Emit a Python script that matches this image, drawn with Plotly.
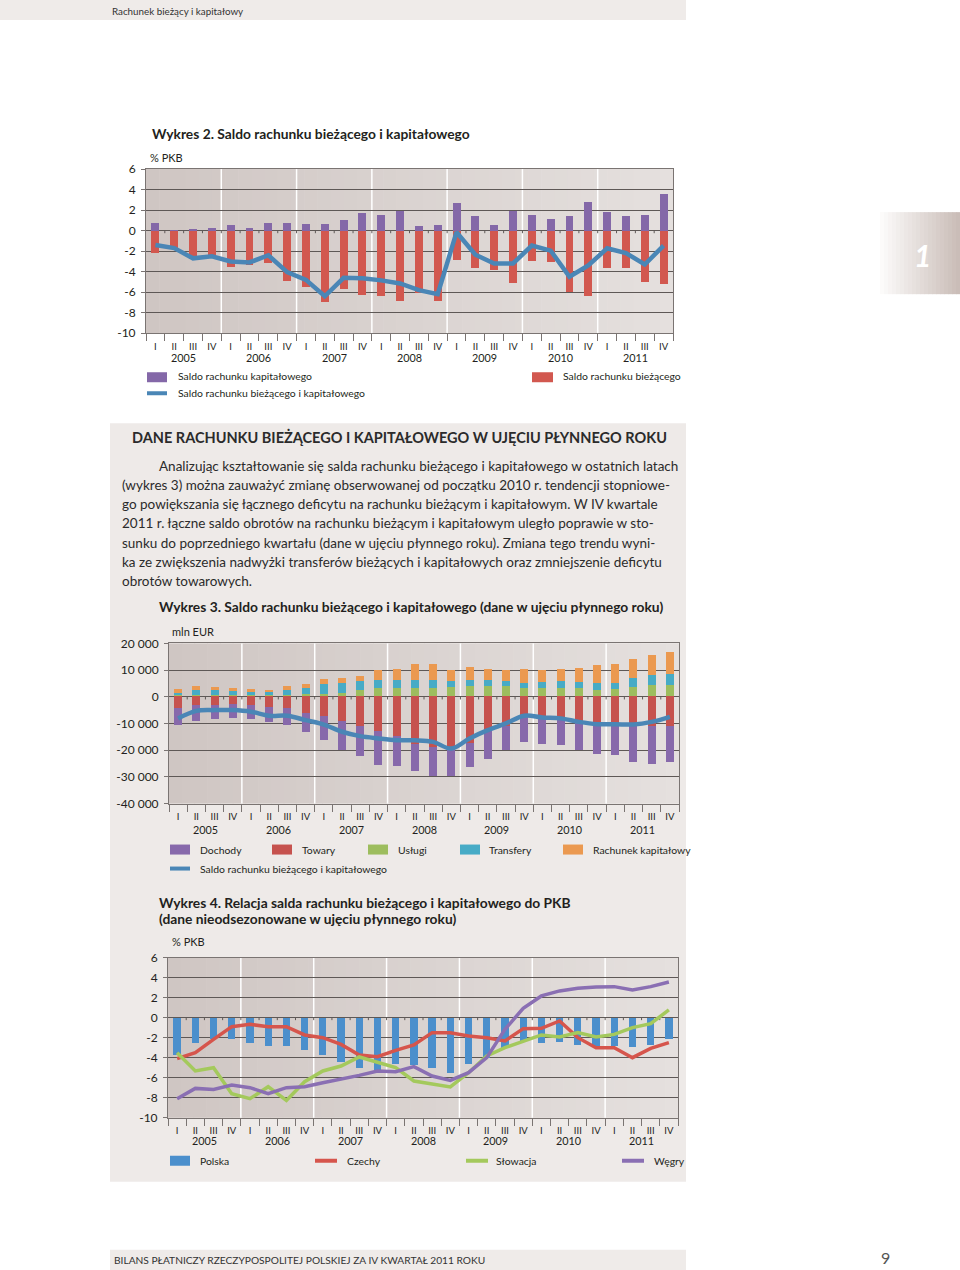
import plotly.graph_objects as go

W, H = 960, 1270
# the photographed page shows the figure shifted down ~8 px and squeezed by ~1.25 %;
# positions below are given in reference-picture pixels and corrected here.
OFF, SC = 8.0, 0.98755


def px(x):
    return x / W


def py(y):
    return 1 - ((y - OFF) / SC) / H


FONT = "Lato, Open Sans, sans-serif"

# ---------------- data ----------------
quarters = ["I", "II", "III", "IV"] * 7
years = ["2005", "2006", "2007", "2008", "2009", "2010", "2011"]
pos = list(range(28))

# Wykres 2 (% PKB)
kap_pkb = [0.72, 0.05, 0.15, 0.25, 0.5, 0.25, 0.71, 0.71, 0.65, 0.65, 1.06, 1.7, 1.5, 1.87,
           0.48, 0.58, 2.7, 1.37, 0.55, 1.92, 1.53, 1.17, 1.46, 2.8, 1.8, 1.43, 1.53, 3.6]
biez_pkb = [-2.2, -1.75, -2.75, -2.55, -3.6, -3.4, -3.2, -4.9, -5.55, -7.0, -5.68, -6.3, -6.4, -6.87,
            -6.13, -6.84, -2.86, -3.7, -3.8, -5.1, -3.0, -3.1, -6.0, -6.4, -3.64, -3.64, -5.0, -5.2]
saldo_pkb = [-1.4, -1.7, -2.7, -2.5, -3.0, -3.1, -2.4, -4.05, -4.8, -6.4, -4.6, -4.65, -4.85, -5.15,
             -5.8, -6.2, -0.15, -2.35, -3.2, -3.2, -1.46, -1.95, -4.5, -3.4, -1.72, -2.18, -3.3, -1.46]

# Wykres 3 (mln EUR)
uslugi = [400, 600, 600, 600, 500, 500, 600, 750, 1000, 1250, 2250, 3100, 3100, 3100,
          3100, 3400, 3750, 3750, 4000, 3100, 3100, 3100, 3100, 2500, 2750, 3400, 4100, 4400]
transfery = [900, 1800, 1700, 1500, 1250, 1100, 1900, 2250, 3600, 3750, 3350, 3150, 2900, 3150,
             3150, 2500, 2500, 2500, 1900, 1900, 2400, 2800, 2150, 2500, 2250, 3350, 4000, 4100]
rach_kap = [1300, 1500, 1100, 900, 850, 900, 1250, 1750, 1800, 1900, 1900, 3500, 4250, 5850,
            5850, 3850, 4750, 4000, 3850, 5250, 4250, 4500, 5500, 6600, 7100, 7350, 7300, 8100]
towary = [-4400, -3100, -3100, -2800, -3100, -3800, -4400, -6250, -7500, -9400, -11250, -13100, -15000, -18000,
          -19000, -19400, -17500, -12500, -11250, -6900, -7500, -8750, -10000, -10600, -11250, -11250, -11000, -11000]
dochody = [-6200, -6000, -5300, -5300, -5300, -5800, -6500, -7250, -9000, -10600, -11250, -12500, -11250, -10100,
           -10750, -10350, -9100, -10900, -8750, -10200, -10250, -9500, -10000, -11000, -10850, -13350, -14250, -13600]
saldo_eur = [-8100, -5300, -5000, -5000, -5600, -7100, -7100, -8750, -10400, -13100, -14750, -15600, -16250, -16300,
             -16900, -19400, -15600, -12500, -10000, -7100, -7750, -8100, -9400, -10250, -10250, -10400, -9400, -7500]

# Wykres 4 (% PKB)
polska = [-3.67, -2.5, -2.1, -2.07, -2.5, -2.77, -2.77, -3.23, -3.67, -4.43, -5.0, -5.33, -4.6, -4.67,
          -5.0, -5.5, -4.57, -4.0, -3.0, -2.27, -2.5, -2.4, -2.67, -2.83, -2.83, -2.93, -2.67, -2.1]
czechy = [-4.1, -3.5, -2.17, -0.9, -0.67, -0.9, -0.9, -1.73, -2.0, -2.67, -3.73, -3.9, -3.27, -2.73,
          -1.5, -1.5, -1.83, -2.0, -2.33, -1.1, -1.07, -0.33, -2.0, -3.0, -3.0, -4.0, -3.07, -2.5]
slowacja = [-3.5, -5.33, -5.0, -7.6, -8.1, -6.9, -8.27, -6.4, -5.33, -4.83, -3.93, -4.5, -5.0, -6.33,
            -6.67, -6.93, -5.5, -3.83, -3.0, -2.33, -1.73, -1.93, -1.5, -1.93, -1.67, -1.0, -0.6, 0.77]
wegry = [-8.1, -7.07, -7.17, -6.73, -7.0, -7.6, -7.0, -6.9, -6.5, -6.17, -5.77, -5.33, -5.4, -4.9,
         -5.83, -6.27, -5.5, -4.0, -1.17, 0.93, 2.17, 2.67, 2.93, 3.07, 3.1, 2.77, 3.1, 3.57]

# ---------------- styles ----------------
PURPLE = "#8468a8"
RED = "#d2584f"
BLUE = "#4a86b6"
C_DOCH = "#8769ab"
C_TOW = "#c6524e"
C_USL = "#9dbd5e"
C_TRA = "#47abc6"
C_KAP = "#eb9950"
C_PL = "#4b8fcc"
C_CZ = "#d6554c"
C_SK = "#a4c95c"
C_HU = "#8a6fb3"
BG_LEFT = (207, 198, 195)
BG_RIGHT = (229, 224, 222)
PANEL = "#eeeae8"
GRID = "#5e5856"
AXC = "#7a7472"
TXT = "#231f20"

fig = go.Figure()

# Wykres 2
fig.add_trace(go.Bar(x=pos, y=kap_pkb, marker=dict(color=PURPLE, line_width=0), width=0.42,
                     xaxis="x", yaxis="y", name="Saldo rachunku kapitałowego"))
fig.add_trace(go.Bar(x=pos, y=biez_pkb, marker=dict(color=RED, line_width=0), width=0.42,
                     xaxis="x", yaxis="y", name="Saldo rachunku bieżącego"))
fig.add_trace(go.Scatter(x=pos, y=saldo_pkb, mode="lines", line=dict(color=BLUE, width=4.5),
                         xaxis="x", yaxis="y", name="Saldo rachunku bieżącego i kapitałowego"))

# Wykres 3
for vals, col, nm in [(uslugi, C_USL, "Usługi"), (transfery, C_TRA, "Transfery"),
                      (rach_kap, C_KAP, "Rachunek kapitałowy"), (towary, C_TOW, "Towary"),
                      (dochody, C_DOCH, "Dochody")]:
    fig.add_trace(go.Bar(x=pos, y=vals, marker=dict(color=col, line_width=0), width=0.44,
                         xaxis="x2", yaxis="y2", name=nm))
fig.add_trace(go.Scatter(x=pos, y=saldo_eur, mode="lines", line=dict(color=BLUE, width=4.5, shape="spline"),
                         xaxis="x2", yaxis="y2", name="Saldo rachunku bieżącego i kapitałowego"))

# Wykres 4
fig.add_trace(go.Bar(x=pos, y=polska, marker=dict(color=C_PL, line_width=0), width=0.4,
                     xaxis="x3", yaxis="y3", name="Polska"))
for vals, col, nm in [(czechy, C_CZ, "Czechy"), (slowacja, C_SK, "Słowacja"), (wegry, C_HU, "Węgry")]:
    fig.add_trace(go.Scatter(x=pos, y=vals, mode="lines", line=dict(color=col, width=3.5),
                             xaxis="x3", yaxis="y3", name=nm))

bounds = [i - 0.5 for i in range(29)]


def xax(x0, x1, anchor):
    return dict(domain=[px(x0), px(x1)], anchor=anchor, range=[-0.5, 27.5],
                tickmode="array", tickvals=pos, ticktext=quarters, ticks="",
                ticklabelstandoff=4,
                tickfont=dict(family=FONT, size=9.5, color=TXT),
                showgrid=False, zeroline=False, showline=True, linecolor=AXC, linewidth=1,
                mirror=True, fixedrange=True,
                minor=dict(tickmode="array", tickvals=bounds, ticks="outside", ticklen=7,
                           tickcolor=AXC, tickwidth=1, showgrid=False))


def yax(y0, y1, anchor, rng, tv, tt):
    return dict(domain=[py(y1), py(y0)], anchor=anchor, range=rng, tickmode="array",
                tickvals=tv, ticktext=tt, showgrid=True, gridcolor=GRID, gridwidth=1,
                zeroline=False, showline=True, linecolor=AXC, linewidth=1, mirror=True,
                ticks="outside", ticklen=4, tickcolor=AXC, ticklabelstandoff=3,
                tickfont=dict(family=FONT, size=12, color=TXT), fixedrange=True)


pkb_ticks = [6, 4, 2, 0, -2, -4, -6, -8, -10]
pkb_text = ["6", "4", "2", "0", "-2", "-4", "-6", "-8", "-10"]
eur_ticks = [20000, 10000, 0, -10000, -20000, -30000, -40000]
eur_text = ["20 000", "10 000", "0", "-10 000", "-20 000", "-30 000", "-40 000"]

C1 = (146, 673, 169, 333)
C3 = (169, 679, 643, 803)
C4 = (168, 678, 957, 1117)

fig.update_layout(
    width=W, height=H, margin=dict(l=0, r=0, t=0, b=0),
    paper_bgcolor="white", plot_bgcolor="rgba(0,0,0,0)",
    barmode="relative", bargap=0, showlegend=False,
    font=dict(family=FONT, color=TXT),
    xaxis=xax(C1[0], C1[1], "y"),
    yaxis=yax(C1[2], C1[3], "x", [-10, 6], pkb_ticks, pkb_text),
    xaxis2=xax(C3[0], C3[1], "y2"),
    yaxis2=yax(C3[2], C3[3], "x2", [-40000, 20000], eur_ticks, eur_text),
    xaxis3=xax(C4[0], C4[1], "y3"),
    yaxis3=yax(C4[2], C4[3], "x3", [-10, 6], pkb_ticks, pkb_text),
)

shapes = []
ann = []


def prect(x0, x1, y0, y1, col, layer="below"):
    shapes.append(dict(type="rect", xref="paper", yref="paper", x0=px(x0), x1=px(x1), y0=py(y1), y1=py(y0),
                       fillcolor=col, line_width=0, layer=layer))


def lerp(c0, c1, t):
    return "rgb(%d,%d,%d)" % tuple(int(round(a + (b - a) * t)) for a, b in zip(c0, c1))


# page decorations
prect(0, 686, 0, 20, "#efebe9")
prect(110, 686, 423, 1181, PANEL)
prect(110, 686, 1249, 1270, "#efebe9")
# side tab gradient
n = 20
for i in range(n):
    prect(880 + i * 4, 884.5 + i * 4, 212, 294, lerp((252, 251, 250), (202, 189, 184), i / (n - 1)))

# plot backgrounds (soft left-to-right gradient) + year separators + zero ticks
for (x0, x1, y0, y1), xr, yr, zero_len in [(C1, "x", "y", 0.25), (C3, "x2", "y2", 1000), (C4, "x3", "y3", 0.25)]:
    ns = 40
    step = (x1 - x0) / ns
    for i in range(ns):
        prect(x0 + i * step, min(x1, x0 + (i + 1) * step + 0.6), y0, y1, lerp(BG_LEFT, BG_RIGHT, i / (ns - 1)))
    for k in range(1, 7):
        shapes.append(dict(type="line", xref=xr, yref=yr + " domain", x0=4 * k - 0.5, x1=4 * k - 0.5,
                           y0=0, y1=1, line=dict(color="white", width=1.5), layer="below"))
    for b in bounds[1:-1]:
        shapes.append(dict(type="line", xref=xr, yref=yr, x0=b, x1=b, y0=0, y1=-zero_len,
                           line=dict(color=GRID, width=1), layer="below"))

# year labels
for xr, ylab in [("x", 357), ("x2", 829), ("x3", 1140)]:
    for k, yy in enumerate(years):
        ann.append(dict(text=yy, xref=xr, yref="paper", x=4 * k + 1.5, y=py(ylab), showarrow=False,
                        xanchor="center", yanchor="middle", font=dict(family=FONT, size=10.8, color=TXT)))


def text(t, x, y, size=10.2, anchor="left", color=TXT):
    ann.append(dict(text=t, xref="paper", yref="paper", x=px(x), y=py(y), showarrow=False,
                    xanchor=anchor, yanchor="middle", font=dict(family=FONT, size=size, color=color)))


def swatch(x0, x1, y, col):
    shapes.append(dict(type="rect", xref="paper", yref="paper", x0=px(x0), x1=px(x1), y0=py(y + 5), y1=py(y - 5),
                       fillcolor=col, line_width=0))


def lswatch(x0, x1, y, col):
    shapes.append(dict(type="line", xref="paper", yref="paper", x0=px(x0), x1=px(x1), y0=py(y), y1=py(y),
                       line=dict(color=col, width=4)))


LEG = 10.4
TITLE = 13.8

# header / footer
text("Rachunek bieżący i kapitałowy", 110, 11, size=9.8, color="#333")
text("BILANS PŁATNICZY RZECZYPOSPOLITEJ POLSKIEJ ZA IV KWARTAŁ 2011 ROKU", 112, 1259, size=10.2, color="#333")
text("9", 885, 1257, size=16, color="#555", anchor="center")
text("<b><i>1</i></b>", 922, 255, size=30, color="white", anchor="center")

# Wykres 2
text("<b>Wykres 2. Saldo rachunku bieżącego i kapitałowego</b>", 150, 133, size=TITLE)
text("% PKB", 148, 157, size=11)
swatch(147, 167, 377, PURPLE)
text("Saldo rachunku kapitałowego", 176, 376, size=LEG)
lswatch(147, 167, 393, BLUE)
text("Saldo rachunku bieżącego i kapitałowego", 176, 393, size=LEG)
swatch(532, 553, 377, RED)
text("Saldo rachunku bieżącego", 561, 376, size=LEG)

# section heading + paragraph
text("<b>DANE RACHUNKU BIEŻĄCEGO I KAPITAŁOWEGO W UJĘCIU PŁYNNEGO ROKU</b>", 130, 437, size=14.5,
     color="#2b2b2b")
para = [
    ("Analizując kształtowanie się salda rachunku bieżącego i kapitałowego w ostatnich latach", 157, 466),
    ("(wykres 3) można zauważyć zmianę obserwowanej od początku 2010 r. tendencji stopniowe-", 120, 485),
    ("go powiększania się łącznego deficytu na rachunku bieżącym i kapitałowym. W IV kwartale", 120, 504),
    ("2011 r. łączne saldo obrotów na rachunku bieżącym i kapitałowym uległo poprawie w sto-", 120, 523),
    ("sunku do poprzedniego kwartału (dane w ujęciu płynnego roku). Zmiana tego trendu wyni-", 120, 543),
    ("ka ze zwiększenia nadwyżki transferów bieżących i kapitałowych oraz zmniejszenie deficytu", 120, 562),
    ("obrotów towarowych.", 120, 581),
]
for t, x, y in para:
    text(t, x, y, size=13.5, color="#2b2b2b")

# Wykres 3
text("<b>Wykres 3. Saldo rachunku bieżącego i kapitałowego (dane w ujęciu płynnego roku)</b>", 157, 606,
     size=TITLE)
text("mln EUR", 170, 631, size=11)
for x0, x1, col, lab, tx in [(170, 190, C_DOCH, "Dochody", 198), (272, 292, C_TOW, "Towary", 300),
                             (368, 388, C_USL, "Usługi", 396), (460, 480, C_TRA, "Transfery", 487),
                             (563, 583, C_KAP, "Rachunek kapitałowy", 591)]:
    swatch(x0, x1, 849, col)
    text(lab, tx, 849, size=LEG)
lswatch(170, 190, 868, BLUE)
text("Saldo rachunku bieżącego i kapitałowego", 198, 868, size=LEG)

# Wykres 4
text("<b>Wykres 4. Relacja salda rachunku bieżącego i kapitałowego do PKB</b>", 157, 902, size=TITLE)
text("<b>(dane nieodsezonowane w ujęciu płynnego roku)</b>", 157, 918, size=TITLE)
text("% PKB", 170, 941, size=11)
swatch(170, 190, 1160, C_PL)
text("Polska", 198, 1160, size=LEG)
lswatch(315, 337, 1160, C_CZ)
text("Czechy", 345, 1160, size=LEG)
lswatch(466, 488, 1160, C_SK)
text("Słowacja", 494, 1160, size=LEG)
lswatch(622, 644, 1160, C_HU)
text("Węgry", 652, 1160, size=LEG)

fig.update_layout(shapes=shapes, annotations=ann)
fig.write_html("out.html")
